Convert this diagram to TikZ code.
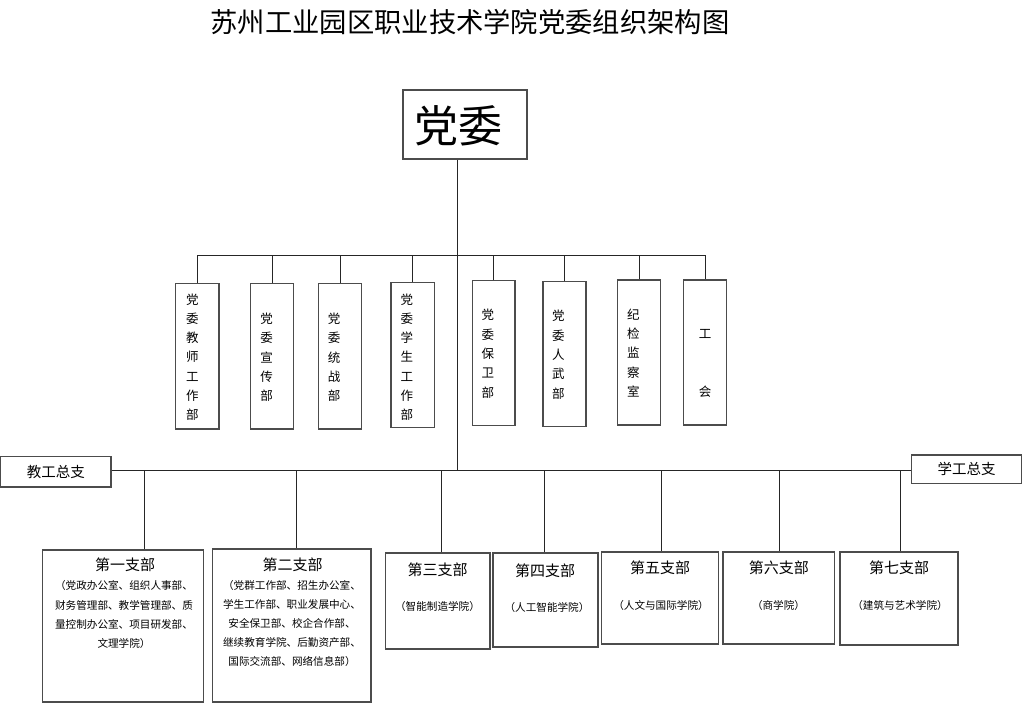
\documentclass[tikz,border=0pt]{standalone}
\usepackage{fontspec}
\setmainfont{Noto Sans CJK SC}
\begin{document}
\begin{tikzpicture}[x=1pt,y=-1pt,
  box/.style={draw=black!70,line width=1.3pt,inner sep=0pt,fill=white},
  conn/.style={draw=black!85,line width=0.9pt},
  vtext/.style={align=center,inner sep=0pt,font=\fontsize{12.5}{19.3}\selectfont},
  ttl/.style={inner sep=0pt,font=\fontsize{15}{18}\selectfont},
  sub/.style={inner sep=0pt,align=center,font=\fontsize{10.6}{19.3}\selectfont},
  side/.style={box,font=\fontsize{14.5}{17}\selectfont}
]
\useasboundingbox[fill=white] (0,0) rectangle (1024,703);

% title
\node[inner sep=0pt,font=\fontsize{27.3}{30}\selectfont] (title) at (470,22) {苏州工业园区职业技术学院党委组织架构图};

% top box
\node[box,minimum width=124pt,minimum height=69pt] (dw) at (465,124.5) {};
\node[inner sep=0pt,font=\fontsize{44}{48}\selectfont] (dwt) at (458,126) {党委};

\coordinate (top) at (457.5,255);
\coordinate (mid) at (457.5,470.5);

% departments
\node[box,minimum width=43.3pt,minimum height=145.7pt] (b1) at (197.35,356.15) {};
\node[box,minimum width=42.6pt,minimum height=145.7pt] (b2) at (272,356.15) {};
\node[box,minimum width=42.6pt,minimum height=145.7pt] (b3) at (340,356.15) {};
\node[box,minimum width=43.3pt,minimum height=145.4pt] (b4) at (412.65,355) {};
\node[box,minimum width=42.7pt,minimum height=145pt] (b5) at (493.65,353.2) {};
\node[box,minimum width=43pt,minimum height=145pt] (b6) at (564.5,354.2) {};
\node[box,minimum width=42.6pt,minimum height=145pt] (b7) at (639,352.5) {};
\node[box,minimum width=43pt,minimum height=145pt] (b8) at (705.2,352.5) {};

\node[vtext] (t1) at (192.4,357.2) {党\\委\\教\\师\\工\\作\\部};
\node[vtext] (t2) at (266.7,357.5) {党\\委\\宣\\传\\部};
\node[vtext] (t3) at (334,357.5) {党\\委\\统\\战\\部};
\node[vtext] (t4) at (406.8,357.2) {党\\委\\学\\生\\工\\作\\部};
\node[vtext] (t5) at (487.8,353.8) {党\\委\\保\\卫\\部};
\node[vtext] (t6) at (558.4,354.7) {党\\委\\人\\武\\部};
\node[vtext] (t7) at (633.4,353) {纪\\检\\监\\察\\室};
\node[vtext] (t8) at (705,363.3) {工\\\mbox{}\\\mbox{}\\会};

% connectors top
\draw[conn] (dw.south -| top) -- (mid);
\draw[conn] (b1.north |- top) -- (b8.north |- top);
\foreach \b in {b1,b2,b3,b4,b5,b6,b7,b8}{
  \draw[conn] (\b.north) -- (\b.north |- top);
}

% side boxes
\node[side,minimum width=110.3pt,minimum height=30.3pt] (jg) at (55.85,471.85) {教工总支};
\node[side,minimum width=110pt,minimum height=28.7pt] (xg) at (966.7,469.35) {学工总支};
\draw[conn] (jg.east |- mid) -- (xg.west |- mid);

% branches
\node[box,minimum width=161pt,minimum height=152pt] (z1) at (123.2,626) {};
\node[box,minimum width=158.3pt,minimum height=153pt] (z2) at (291.85,625.5) {};
\node[box,minimum width=104.3pt,minimum height=96pt] (z3) at (437.85,601) {};
\node[box,minimum width=105pt,minimum height=94pt] (z4) at (545.5,600) {};
\node[box,minimum width=116.7pt,minimum height=92pt] (z5) at (660.15,598) {};
\node[box,minimum width=111.6pt,minimum height=92pt] (z6) at (778.8,598) {};
\node[box,minimum width=118pt,minimum height=93pt] (z7) at (899,598.5) {};

\coordinate (s1) at (144.3,470.5);
\coordinate (s2) at (296,470.5);
\coordinate (s3) at (441.7,470.5);
\coordinate (s4) at (544.3,470.5);
\coordinate (s5) at (661.7,470.5);
\coordinate (s6) at (779.3,470.5);
\coordinate (s7) at (900,470.5);
\foreach \i in {1,...,7}{
  \draw[conn] (s\i) -- (z\i.north -| s\i);
}

\node[ttl] (h1) at (125,565) {第一支部};
\node[ttl] (h2) at (292.5,565) {第二支部};
\node[ttl] (h3) at (437.5,570) {第三支部};
\node[ttl] (h4) at (545,570.5) {第四支部};
\node[ttl] (h5) at (660,568) {第五支部};
\node[ttl] (h6) at (778.8,568) {第六支部};
\node[ttl] (h7) at (899,568) {第七支部};

\node[sub] (d1) at (124,614.9) {（党政办公室、组织人事部、\\财务管理部、教学管理部、质\\量控制办公室、项目研发部、\\文理学院）};
\node[sub,font=\fontsize{10.6}{18.9}\selectfont] (d2) at (292,623.3) {（党群工作部、招生办公室、\\学生工作部、职业发展中心、\\安全保卫部、校企合作部、\\继续教育学院、后勤资产部、\\国际交流部、网络信息部）};
\node[sub] (d3) at (437.5,606.7) {（智能制造学院）};
\node[sub] (d4) at (547,607.5) {（人工智能学院）};
\node[sub] (d5) at (661,605) {（人文与国际学院）};
\node[sub] (d6) at (778.5,605) {（商学院）};
\node[sub] (d7) at (900,605) {（建筑与艺术学院）};
\end{tikzpicture}
\end{document}
